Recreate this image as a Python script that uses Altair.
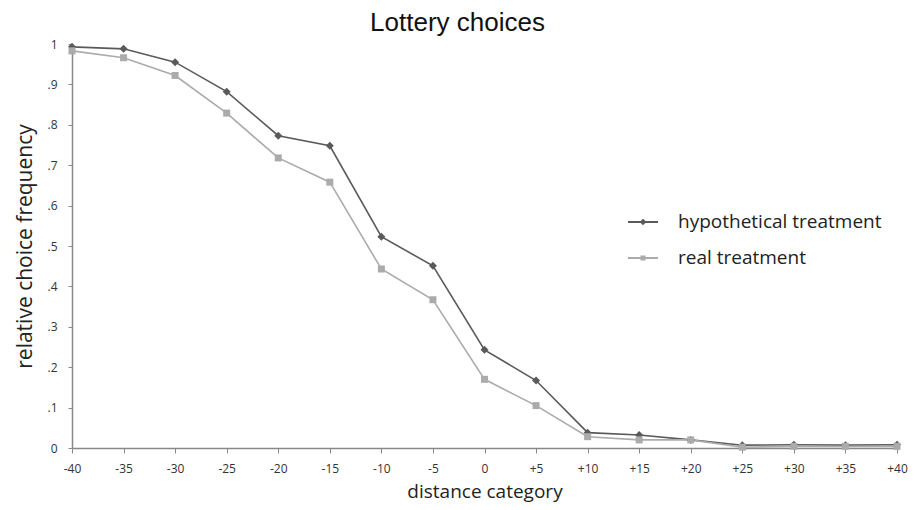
import altair as alt
import pandas as pd

distance = [-40, -35, -30, -25, -20, -15, -10, -5, 0, 5, 10, 15, 20, 25, 30, 35, 40]
hypothetical = [0.993, 0.988, 0.955, 0.882, 0.773, 0.748, 0.523, 0.451, 0.243, 0.167,
                0.038, 0.032, 0.020, 0.007, 0.008, 0.007, 0.008]
real = [0.983, 0.966, 0.922, 0.829, 0.718, 0.658, 0.443, 0.367, 0.170, 0.105,
        0.028, 0.020, 0.020, 0.002, 0.004, 0.004, 0.004]
series_names = ["hypothetical treatment", "real treatment"]
series_colors = ["#5a5a5a", "#ababab"]
series_markers = ["diamond", "square"]
series_marker_sizes = [64, 49]

rows = []
for d, h, r in zip(distance, hypothetical, real):
    rows.append({"distance": d, "freq": h, "series": series_names[0],
                 "marker": series_markers[0], "msize": series_marker_sizes[0]})
    rows.append({"distance": d, "freq": r, "series": series_names[1],
                 "marker": series_markers[1], "msize": series_marker_sizes[1]})
df = pd.DataFrame(rows)

FONT = "Open Sans"

x = alt.X("distance:Q",
          scale=alt.Scale(domain=[-40, 40], nice=False),
          axis=alt.Axis(values=distance, title="distance category",
                        labelExpr="datum.value > 0 ? '+' + datum.value : '' + datum.value",
                        grid=False, tickSize=5, labelPadding=10, labelFontSize=12,
                        labelColor="#333", titleFontSize=19, titleColor="#222",
                        titleFontWeight="normal", titlePadding=8, labelFont=FONT,
                        titleFont=FONT, domainColor="#888", tickColor="#888",
                        domainWidth=1.5, labelFlush=False))
y = alt.Y("freq:Q",
          scale=alt.Scale(domain=[0, 1], nice=False),
          axis=alt.Axis(values=[i / 10 for i in range(11)], title="relative choice frequency",
                        labelExpr="datum.value == 0 ? '0' : datum.value == 1 ? '1' : replace(format(datum.value, '.1f'), '0.', '.')",
                        grid=False, tickSize=4, labelPadding=11, labelFontSize=12,
                        labelColor="#333", titleFontSize=21, titleColor="#222",
                        titleFontWeight="normal", titlePadding=11, labelFont=FONT,
                        titleFont=FONT, domainColor="#888", tickColor="#888",
                        domainWidth=1.5))

color_scale = alt.Scale(domain=series_names, range=series_colors)

legend_paths = ["M-1,0L1,0M0,-0.13L0.13,0L0,0.13L-0.13,0Z",
                "M-1,0L1,0M-0.1,-0.1L0.1,-0.1L0.1,0.1L-0.1,0.1Z"]

legend = alt.Legend(title=None, orient="none", legendX=555, legendY=162,
                    symbolSize=900, symbolStrokeWidth=2, labelLimit=0,
                    labelFontSize=19, labelFont=FONT, labelColor="#222",
                    labelOffset=19, rowPadding=10)

color = alt.Color("series:N", scale=color_scale, legend=legend)

lines = alt.Chart(df).mark_line(strokeWidth=1.6).encode(
    x=x, y=y,
    color=color,
    detail="series:N",
)

points = alt.Chart(df).mark_point(filled=True, opacity=1).encode(
    x=x, y=y,
    color=color,
    shape=alt.Shape("marker:N", scale=None),
    size=alt.Size("msize:Q", scale=None),
)

legend_layer = alt.Chart(df).transform_filter("false").mark_point(
    filled=False, opacity=1, strokeWidth=2
).encode(
    x=x, y=y,
    color=color,
    shape=alt.Shape("series:N", scale=alt.Scale(domain=series_names, range=legend_paths),
                    legend=legend),
)

chart = alt.layer(lines, points, legend_layer).properties(
    width=825, height=404,
    title=alt.Title("Lottery choices", fontSize=26, font="Liberation Sans",
                    fontWeight="normal", color="#111", offset=2, dx=-27),
    autosize=alt.AutoSizeParams(type="none"),
    padding={"left": 64, "top": 36, "right": 12, "bottom": 56},
).configure_view(stroke=None)

chart.save("out.html", embed_options={"renderer": "svg", "actions": False})
